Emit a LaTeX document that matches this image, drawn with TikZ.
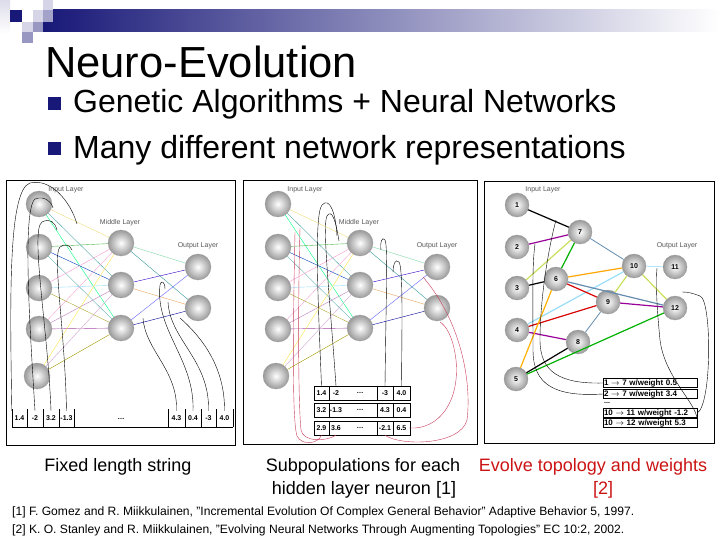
\documentclass[tikz,border=0pt]{standalone}
\usepackage{fontspec}
\setmainfont{Liberation Sans}
\usepackage{tikz}
\definecolor{navy}{RGB}{24,24,120}
\definecolor{evred}{RGB}{204,20,20}
\definecolor{wirered}{RGB}{200,60,90}
\definecolor{steel}{RGB}{100,140,175}
\definecolor{lime}{RGB}{200,225,90}

\begin{document}
\begin{tikzpicture}[x=1pt,y=-1pt,
neuron/.style={circle,draw=gray!80,line width=0.3pt,shading=radial,inner color=white,outer color=gray!80,minimum size=26pt,inner sep=0pt},
unit/.style={neuron,minimum size=24pt,font=\bfseries\fontsize{7}{8}\selectfont},
layer/.style={font=\fontsize{7}{8}\selectfont,text=gray!70!black,inner sep=0pt},
num/.style={font=\bfseries\fontsize{7}{8}\selectfont,inner sep=0pt,minimum width=15pt,minimum height=14pt},
syn/.style={line width=0.4pt},
link/.style={line width=1.2pt},
wire/.style={line width=0.4pt,black},
gene/.style={draw,line width=0.4pt,minimum width=94pt,minimum height=9pt,inner sep=0.2pt,text width=92pt,align=left,font=\bfseries\fontsize{8}{8}\selectfont},
caption/.style={font=\fontsize{18}{22}\selectfont,inner sep=0pt,anchor=base}]
\useasboundingbox(0,0)rectangle(720,540);
\fill[white](0,0)rectangle(720,540);
\shade[left color=navy,right color=white](43,10)rectangle(720,32);
\shade[top color=navy!15,bottom color=white](0,0)rectangle(10,34);
\fill[navy](10,10)rectangle(22,22);
\fill[navy!18](33,10)rectangle(43,22);
\fill[navy!18](43,0)rectangle(53,10);
\fill[navy!40](43,10)rectangle(53,22);
\fill[navy!18](22,22)rectangle(33,32);
\fill[navy!45](33,22)rectangle(43,32);
\fill[navy!45](22,32)rectangle(33,43);
\node[anchor=base west,inner sep=0pt,font=\fontsize{43.5}{50}\selectfont](title)at(45,78){Neuro-Evolution};
\fill[navy](48,97)rectangle(61,110);
\node[anchor=base west,inner sep=0pt,font=\fontsize{32}{38}\selectfont](ga)at(73,113){Genetic Algorithms + Neural Networks};
\fill[navy](48,142)rectangle(61,155);
\node[anchor=base west,inner sep=0pt,font=\fontsize{32}{38}\selectfont](reps)at(73,159){Many different network representations};
\draw[line width=0.8pt](6,180)rectangle(235,445);
\draw[line width=0.8pt](243,180)rectangle(477,444);
\draw[line width=0.8pt](484,181)rectangle(714,443);
\foreach \p/\dx in {a/0,b/239}{
\begin{scope}[xshift=\dx]
\foreach \n/\y in {1/204,2/247,3/288,4/329}\node[neuron](\p in\n)at(39,\y){};
\node[neuron](\p in5)at(37,376){};
\foreach \n/\y in {1/243,2/285,3/328}\node[neuron](\p m\n)at(121,\y){};
\node[neuron](\p o1)at(198,267){};
\node[neuron](\p o2)at(198,308){};
\node[layer](\p li)at(66,190){Input Layer};
\node[layer](\p lm)at(120,223){Middle Layer};
\node[layer](\p lo)at(198,246){Output Layer};
\end{scope}
\foreach \i/\j/\c in {1/1/yellow!60!brown!60,1/2/teal!70,1/3/green!50!cyan,2/1/green!60!black!70,2/2/blue!50!teal,2/3/teal!60,3/1/magenta!40,3/2/cyan!40,3/3/olive!70,4/1/magenta!35,4/2/violet!50,4/3/violet!70,5/1/yellow!80!orange!70,5/2/violet!35,5/3/olive!80!yellow}
\draw[syn,draw=\c](\p in\i)--(\p m\j);
\foreach \i/\j/\c in {1/1/green!40!teal!50,1/2/teal!80,2/1/blue!60!violet,2/2/orange!60!brown!70,3/1/blue!60,3/2/blue!60!black}
\draw[syn,draw=\c](\p m\i)--(\p o\j);
}
\foreach \n/\x/\t in {1/19.5/1.4,2/35/-2,3/51/3.2,4/66.5/-1.3,5/176.5/4.3,6/193/0.4,7/208.5/-3,8/224.5/4.0}
\node[num](c\n)at(\x,418){\t};
\node[num](cdots)at(121,419){\dots};
\foreach \x in {12,27,43,59,74,168,185,201,216,233}\draw[line width=0.4pt](\x,409)--(\x,427);
\draw[line width=0.4pt](12,427)--(233,427);
\coordinate(w1)at(77,224);
\coordinate(w2)at(53,208);
\coordinate(w3)at(57,230);
\coordinate(w4)at(72,250);
\coordinate(w5)at(143,318);
\coordinate(w6)at(165,289);
\coordinate(w7)at(168,302);
\coordinate(w8)at(180,318);
\draw[wire](c1.north west)..controls(10,300)and(8,190)..(30,183)..controls(50,178)and(70,200)..(w1);
\draw[wire](c2.north)..controls(30,330)and(22,210)..(35,199)..controls(45,195)and(52,203)..(w2);
\draw[wire](c3.north)..controls(48,330)and(30,230)..(42,222)..controls(50,218)and(55,222)..(w3);
\draw[wire](c4.north)..controls(65,330)and(52,255)..(60,247)..controls(65,243)and(70,245)..(w4);
\draw[wire](c5.north)..controls(178,370)and(145,350)..(w5);
\draw[wire](c6.north)..controls(195,360)and(155,330)..(160,285)..controls(161,280)and(165,281)..(w6);
\draw[wire](c7.north)..controls(210,360)and(170,340)..(w7);
\draw[wire](c8.north)..controls(225,370)and(205,340)..(w8);
\foreach \y in {386,403,421}{
\draw[line width=0.4pt](314,\y)rectangle(410,\y+14);
\foreach \x in {329,377,393}\draw[line width=0.4pt](\x,\y)--(\x,\y+14);
}
\foreach \r/\y/\ta/\tb/\tc/\td in {1/393/1.4/-2/-3/4.0,2/410/3.2/-1.3/4.3/0.4,3/428/2.9/3.6/-2.1/6.5}{
\node[num](s\r1)at(321.5,\y){\ta};
\node[num](s\r2)at(336,\y){\tb};
\node[num](s\r3)at(360,\y){\dots};
\node[num](s\r4)at(385,\y){\tc};
\node[num](s\r5)at(401.5,\y){\td};
}
\coordinate(p1)at(337,236);
\coordinate(p2)at(339,241);
\coordinate(p3)at(381,250);
\coordinate(p4)at(393,272);
\coordinate(p5)at(300,228);
\coordinate(p6)at(295,232);
\coordinate(p7)at(440,322);
\coordinate(p8)at(423,277);
\draw[wire](s11.north)..controls(318,300)and(314,215)..(322,205)..controls(330,196)and(336,215)..(p1);
\draw[wire](s12.north)..controls(330,300)and(322,225)..(327,216)..controls(332,208)and(336,222)..(p2);
\draw[wire](s14.north)..controls(386,300)and(388,245)..(385,240)..controls(382,236)and(380,242)..(p3);
\draw[wire](s15.north)..controls(402,320)and(403,268)..(399,262)..controls(395,258)and(393,265)..(p4);
\draw[wire,wirered](p5)..controls(298,300)and(298,400)..(301,430)..controls(303,442)and(325,442)..(s32.south);
\draw[wire,wirered](p6)..controls(293,330)and(292,420)..(297,436)..controls(302,446)and(318,444)..(s31.south);
\draw[wire,wirered](s35.east)..controls(440,430)and(460,400)..(456,360)..controls(453,335)and(445,325)..(p7);
\draw[wire,wirered](s34.south)..controls(400,446)and(460,446)..(467,420)..controls(472,380)and(460,320)..(p8);
\node[unit](n1)at(517,205){1};
\node[unit](n2)at(517,247){2};
\node[unit](n3)at(517,288){3};
\node[unit](n4)at(517,330){4};
\node[unit](n5)at(516,379){5};
\node[unit](n7)at(580,232){7};
\node[unit](n6)at(556,279){6};
\node[unit](n10)at(634,266){10};
\node[unit](n11)at(675,267){11};
\node[unit](n9)at(608,302){9};
\node[unit](n12)at(675,308){12};
\node[unit](n8)at(578,342){8};
\node[layer](li3)at(543,190){Input Layer};
\node[layer](lo3)at(677,246){Output Layer};
\foreach \a/\b/\c in {n1/n7/black,n2/n7/violet!80!magenta,n3/n7/lime,n6/n7/green!70!black,n3/n6/black,n6/n10/orange!70!yellow,n4/n10/cyan!40,n6/n12/steel,n6/n9/red!85!black,n4/n9/red!85!black,n4/n8/violet!80!magenta,n5/n6/orange!60!yellow,n5/n8/black,n9/n10/lime,n10/n12/lime,n9/n12/violet!80!magenta,n5/n12/green!70!black}
\draw[link,draw=\c](\a)--(\b);
\draw[line width=0.8pt,steel](n7)--(n10);
\draw[line width=0.8pt,steel](n8)--(n9);
\draw[line width=0.8pt,cyan!30](n10)--(n11);
\node[gene](g1)at(650,383){1 $\rightarrow$ 7 w/weight 0.5};
\node[gene](g2)at(650,394){2 $\rightarrow$ 7 w/weight 3.4};
\node[anchor=west,inner sep=0pt,font=\bfseries\fontsize{7}{8}\selectfont](gdots)at(604,403){...};
\node[gene](g3)at(650,413){10 $\rightarrow$ 11 w/weight -1.2};
\node[gene](g4)at(650,423){10 $\rightarrow$ 12 w/weight 5.3};
\coordinate(q1)at(556,220);
\coordinate(q2)at(535,244);
\coordinate(q3)at(682,292);
\coordinate(q4)at(657,268);
\draw[wire](g1.west)..controls(560,384)and(540,372)..(540,340)..controls(540,300)and(548,250)..(q1);
\draw[wire](g2.west)..controls(555,397)and(533,385)..(533,350)..controls(533,300)and(532,265)..(q2);
\draw[wire](g3.east)..controls(712,405)and(712,300)..(700,296)..controls(692,293)and(688,292)..(q3);
\draw[wire](g4.east)..controls(700,405)and(665,380)..(660,340)..controls(656,300)and(656,280)..(q4);
\node[caption](cap1)at(118,471){Fixed length string};
\node[caption](cap2)at(363,471){Subpopulations for each};
\node[caption](cap3)at(364,494){hidden layer neuron [1]};
\node[caption,text=evred](cap4)at(593,471){Evolve topology and weights};
\node[caption,text=evred](cap5)at(603,494){[2]};
\node[anchor=base west,inner sep=0pt,font=\fontsize{12.1}{14}\selectfont](ref1)at(12,515){[1] F. Gomez and R. Miikkulainen, "Incremental Evolution Of Complex General Behavior" Adaptive Behavior 5, 1997.};
\node[anchor=base west,inner sep=0pt,font=\fontsize{12.1}{14}\selectfont](ref2)at(12,533){[2] K. O. Stanley and R. Miikkulainen, "Evolving Neural Networks Through Augmenting Topologies" EC 10:2, 2002.};
\end{tikzpicture}
\end{document}
